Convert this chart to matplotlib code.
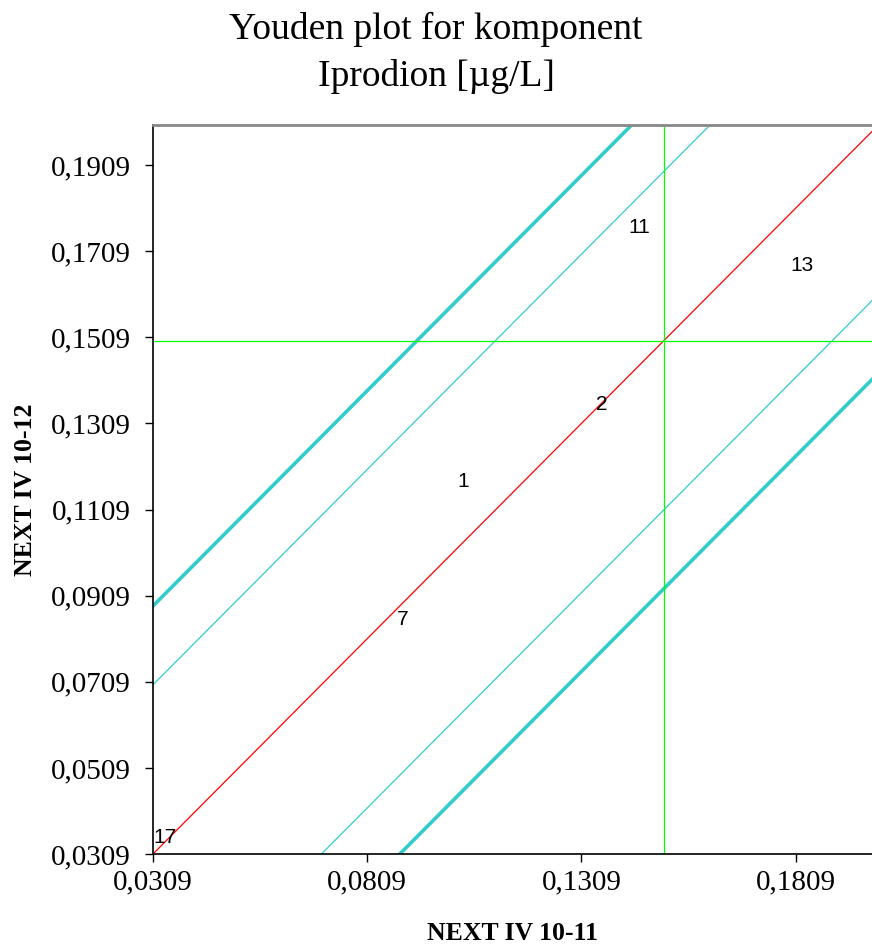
import numpy as np
import matplotlib.pyplot as plt
from matplotlib.ticker import FuncFormatter

# data
labels = ['17', '7', '1', '2', '11', '13']
lab_x = [0.0337, 0.0892, 0.1032, 0.1357, 0.1443, 0.1823]
lab_y = [0.0348, 0.0853, 0.1173, 0.1352, 0.1765, 0.1675]
median_x = 0.1501
median_y = 0.1501
inner_off = 0.0393   # thin lines
outer_off = 0.0576   # thick lines
xmin, xmax = 0.0309, 0.1987
ymin, ymax = 0.0309, 0.2002
xticks = [0.0309, 0.0809, 0.1309, 0.1809]
yticks = [0.0309, 0.0509, 0.0709, 0.0909, 0.1109, 0.1309, 0.1509, 0.1709, 0.1909]

serif = 'Liberation Serif'
fig = plt.figure(figsize=(8.72, 9.49), dpi=100)
ax = fig.add_axes([153/872, 1-854/949, 1-153/872, (854-125)/949])

xs = np.array([0.0, 0.3])
ax.plot(xs, xs, color='#FF0000', lw=0.9)
for off in (inner_off, -inner_off):
    ax.plot(xs, xs + off, color='#33CCCC', lw=0.9)
for off in (outer_off, -outer_off):
    ax.plot(xs, xs + off, color='#33CCCC', lw=2.6)
ax.axvline(median_x, color='#00FF00', lw=0.9)
ax.axhline(median_y, color='#00FF00', lw=0.9)

for t, x, y in zip(labels, lab_x, lab_y):
    ax.text(x, y, t, fontsize=15, family='Liberation Sans', ha='center', va='center')

ax.set_xlim(xmin, xmax)
ax.set_ylim(ymin, ymax)
ax.set_xticks(xticks)
ax.set_yticks(yticks)
fmt = FuncFormatter(lambda v, p: ('%.4f' % v).replace('.', ','))
ax.xaxis.set_major_formatter(fmt)
ax.yaxis.set_major_formatter(fmt)
ax.tick_params(direction='out', length=6, width=1, labelsize=21)
ax.tick_params(axis='x', pad=5)
ax.tick_params(axis='y', pad=10)
for lab in ax.get_xticklabels() + ax.get_yticklabels():
    lab.set_family(serif)

ax.spines['right'].set_visible(False)
ax.spines['top'].set_color('#888888')
ax.spines['top'].set_linewidth(2)
ax.spines['left'].set_linewidth(1.2)
ax.spines['bottom'].set_linewidth(1.2)

ax.set_xlabel('NEXT IV 10-11', family=serif, fontsize=18.5, fontweight='bold', labelpad=19)
ax.set_ylabel('NEXT IV 10-12', family=serif, fontsize=18.5, fontweight='bold', labelpad=10)
fig.text(0.5, 1-53/949, 'Youden plot for komponent\nIprodion [µg/L]', family=serif,
         fontsize=27, ha='center', va='center', linespacing=1.45)

fig.savefig('out.png', dpi=100)
